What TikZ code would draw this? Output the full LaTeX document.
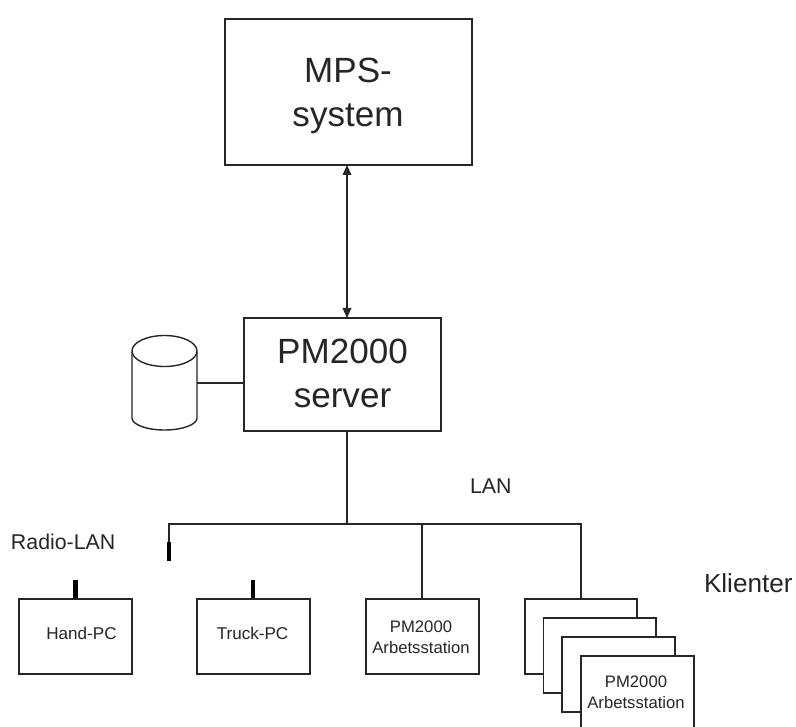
\documentclass[tikz,border=0pt]{standalone}
\usepackage{fontspec}
\setmainfont{Liberation Sans}
\usetikzlibrary{arrows.meta}
\tikzset{
  every node/.style={inner sep=0pt,outer sep=0pt,text=black!85},
  box/.style={draw=black!85,line width=1.05pt,fill=white,inner sep=0pt,outer sep=0pt},
  wire/.style={draw=black!85,line width=1.05pt},
  antenna/.style={draw=black,line width=3.6pt},
  bigt/.style={font=\fontsize{26.3}{33}\selectfont,align=center},
  midt/.style={font=\fontsize{12.8}{15}\selectfont},
  smallt/.style={font=\fontsize{12.5}{15.8}\selectfont,align=center},
  lanlabel/.style={font=\fontsize{16}{19}\selectfont,anchor=west},
}
\begin{document}
\begin{tikzpicture}[x=0.75pt,y=-0.75pt]
\useasboundingbox (0,0) rectangle (796,727);
\clip (0,0) rectangle (796,727);
\fill[white] (0,0) rectangle (796,727);
% coordinates
\coordinate (lanL) at (169,524);
\coordinate (lanR) at (581,524);
\coordinate (lanM) at (347,524);
\coordinate (lan3) at (422,524);
\coordinate (stub) at (169,542);
\coordinate (stubE) at (169,561);
\coordinate (hA) at (75.5,580);
\coordinate (hB) at (75.5,599);
\coordinate (tA) at (253,580);
\coordinate (tB) at (253,599);
\coordinate (w3) at (422,599);
\coordinate (w4) at (581,599);
% main boxes
\draw[box] (225,19) rectangle (472,165);
\node[bigt] (mps) at (348,95.5) {MPS-\\system};
\draw[box] (244,318) rectangle (441,431);
\node[bigt] (srv) at (342.5,373.5) {PM2000\\server};
\coordinate (mpsB) at (347,165);
\coordinate (srvT) at (347,318);
\coordinate (srvB) at (347,431);
\coordinate (srvL) at (244,383);
\coordinate (cylR) at (197,383);
\draw[wire,{Triangle[length=7.5pt,width=6.5pt]}-{Triangle[length=7.5pt,width=6.5pt]}] (mpsB) -- (srvT);
% cylinder
\draw[wire] (132,352) -- (132,418) arc[start angle=180,end angle=0,x radius=32.5,y radius=12] -- (197,352);
\draw[wire] (164.5,351) ellipse[x radius=32.5,y radius=15.5];
\draw[wire] (srvL) -- (cylR);
% LAN
\draw[wire] (srvB) -- (lanM);
\draw[wire] (stub) -- (lanL) -- (lanR) -- (w4);
\draw[wire] (lan3) -- (w3);
\draw[antenna] (stub) -- (stubE);
\draw[antenna] (hA) -- (hB);
\draw[antenna] (tA) -- (tB);
% clients
\draw[box] (19,599) rectangle (132,674);
\node[midt] (hand) at (81.5,633) {Hand-PC};
\draw[box] (197,599) rectangle (310,674);
\node[midt] (truck) at (252.5,633) {Truck-PC};
\draw[box] (366,599) rectangle (479,674);
\node[smallt] (ws1) at (421,637) {PM2000\\Arbetsstation};
\draw[box] (525,599) rectangle (637,674);
\draw[box] (543.5,618) rectangle (656,693);
\draw[box] (562,637) rectangle (675,712);
\draw[box] (581,656) rectangle (694,740);
\node[smallt] (ws2) at (636,692.5) {PM2000\\Arbetsstation};
% labels
\node[lanlabel] (lan) at (470,486) {LAN};
\node[lanlabel] (radio) at (11,542) {Radio-LAN};
\node[lanlabel,font=\fontsize{19.6}{23}\selectfont] (kl) at (704,583) {Klienter};
\end{tikzpicture}
\end{document}
